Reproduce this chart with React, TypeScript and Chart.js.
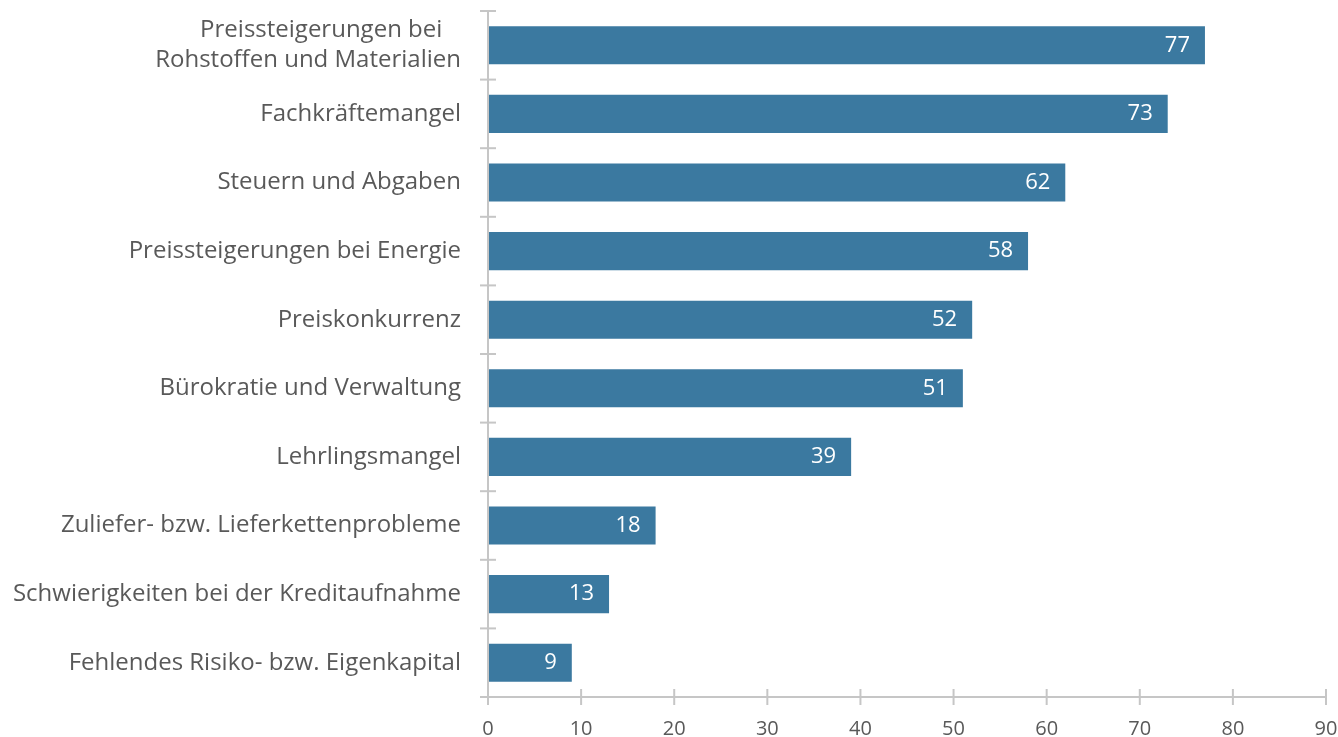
import React, { useEffect, useRef } from "react";
import { Chart, registerables } from "chart.js";

Chart.register(...registerables);

const categories: (string | string[])[] = [
  ["Preissteigerungen bei   ", "Rohstoffen und Materialien"],
  "Fachkräftemangel",
  "Steuern und Abgaben",
  "Preissteigerungen bei Energie",
  "Preiskonkurrenz",
  "Bürokratie und Verwaltung",
  "Lehrlingsmangel",
  "Zuliefer- bzw. Lieferkettenprobleme",
  "Schwierigkeiten bei der Kreditaufnahme",
  "Fehlendes Risiko- bzw. Eigenkapital",
];

const values: number[] = [77, 73, 62, 58, 52, 51, 39, 18, 13, 9];

const xMin = 0;
const xMax = 90;
const xStep = 10;

const FONT = "'Open Sans', 'DejaVu Sans', sans-serif";
const TEXT_COLOR = "#595959";
const AXIS_COLOR = "#c6c6c6";
const BAR_COLOR = "#3b79a0";

const axesPlugin = {
  id: "customAxes",
  afterDatasetsDraw(chart: any) {
    const { ctx, chartArea, scales } = chart;
    const x = scales.x;
    const y = scales.y;
    const tick = 8;
    ctx.save();
    ctx.strokeStyle = AXIS_COLOR;
    ctx.lineWidth = 2;
    ctx.beginPath();
    ctx.moveTo(chartArea.left, chartArea.top);
    ctx.lineTo(chartArea.left, chartArea.bottom + tick);
    ctx.stroke();
    ctx.beginPath();
    ctx.moveTo(chartArea.left - tick, chartArea.bottom);
    ctx.lineTo(chartArea.right, chartArea.bottom);
    ctx.stroke();
    const n = categories.length;
    const step = y.getPixelForValue(1) - y.getPixelForValue(0);
    for (let i = 0; i <= n; i++) {
      const p = i < n ? y.getPixelForValue(i) - step / 2 : y.getPixelForValue(n - 1) + step / 2;
      ctx.beginPath();
      ctx.moveTo(chartArea.left - tick, p);
      ctx.lineTo(chartArea.left + tick, p);
      ctx.stroke();
    }
    for (let v = xMin; v <= xMax; v += xStep) {
      const p = x.getPixelForValue(v);
      ctx.beginPath();
      ctx.moveTo(p, chartArea.bottom - tick);
      ctx.lineTo(p, chartArea.bottom + tick);
      ctx.stroke();
    }
    const meta = chart.getDatasetMeta(0);
    ctx.fillStyle = "#ffffff";
    ctx.font = `400 22px ${FONT}`;
    ctx.textAlign = "right";
    ctx.textBaseline = "middle";
    meta.data.forEach((bar: any, i: number) => {
      ctx.fillText(String(values[i]), bar.x - 15, bar.y);
    });
    ctx.restore();
  },
};

export default function App() {
  const ref = useRef<HTMLCanvasElement>(null);
  useEffect(() => {
    if (!ref.current) return;
    const chart = new Chart(ref.current, {
      type: "bar",
      data: {
        labels: categories,
        datasets: [
          {
            data: values,
            backgroundColor: BAR_COLOR,
            borderWidth: 0,
            categoryPercentage: 1,
            barPercentage: 0.555,
          },
        ],
      },
      options: {
        indexAxis: "y",
        animation: false,
        responsive: false,
        layout: { padding: { top: 11, right: 12, left: 0, bottom: 0 } },
        plugins: {
          legend: { display: false },
          tooltip: { enabled: false },
        },
        scales: {
          y: {
            grid: { display: false, drawTicks: false },
            border: { display: false },
            ticks: {
              color: TEXT_COLOR,
              padding: 27,
              font: { family: FONT, size: 24, weight: "400", lineHeight: 1.25 },
            },
            afterFit: (s: any) => {
              s.width = 488;
              s.paddingTop = 0;
              s.paddingBottom = 0;
            },
          },
          x: {
            min: xMin,
            max: xMax,
            grid: { display: false, drawTicks: false },
            border: { display: false },
            ticks: {
              stepSize: xStep,
              color: TEXT_COLOR,
              padding: 20,
              maxRotation: 0,
              font: { family: FONT, size: 20, weight: "400" },
            },
            afterFit: (s: any) => {
              s.height = 40;
              s.paddingLeft = 0;
              s.paddingRight = 0;
            },
          },
        },
      },
      plugins: [axesPlugin],
    });
    return () => chart.destroy();
  }, []);
  return (
    <div style={{ position: "absolute", left: 0, top: 0, width: 1338, height: 737 }}>
      <canvas ref={ref} width={1338} height={737} style={{ display: "block" }} />
    </div>
  );
}
